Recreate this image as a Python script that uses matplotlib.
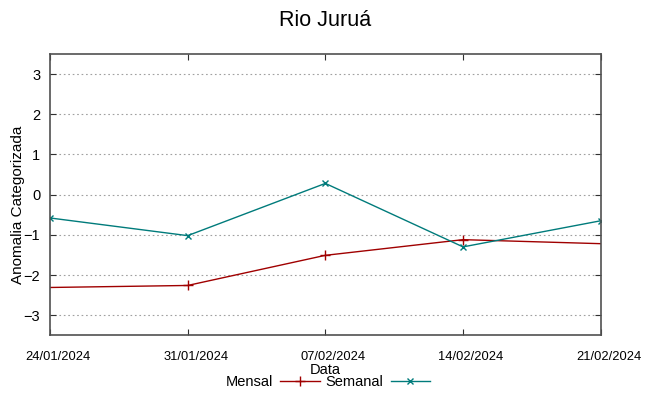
import matplotlib.pyplot as plt
from matplotlib.transforms import ScaledTranslation
from datetime import datetime

datas = ["24/01/2024", "31/01/2024", "07/02/2024", "14/02/2024", "21/02/2024"]
mensal = [-2.31, -2.26, -1.51, -1.12, -1.22]
semanal = [-0.58, -1.02, 0.28, -1.30, -0.65]
yticks = [-3, -2, -1, 0, 1, 2, 3]

x = [datetime.strptime(d, "%d/%m/%Y") for d in datas]

plt.rcParams['font.family'] = ['Liberation Sans', 'DejaVu Sans']
narrow = ['Liberation Sans Narrow', 'Liberation Sans', 'DejaVu Sans']

fig = plt.figure(figsize=(6.49, 3.96), dpi=100)
ax = fig.add_axes([0.077, 0.1533, 0.8486, 0.7103])

ax.plot(x, mensal, color='#a00000', linewidth=1, marker='+', markersize=7,
        markevery=[1, 2, 3], label='Mensal')
ax.plot(x, semanal, color='#007b7b', linewidth=1, marker='x', markersize=5,
        label='Semanal')

ax.set_xlim(x[0], x[-1])
ax.set_ylim(-3.5, 3.5)
ax.set_yticks(yticks)
ax.set_xticks(x)
ax.set_xticklabels(datas, family=narrow, fontsize=9.3)
ax.tick_params(axis='y', direction='in', length=4, right=True, labelsize=10.5, pad=7,
               color='#303030')
ax.tick_params(axis='x', direction='in', length=4, top=True, pad=11, color='#303030')
ax.grid(True, axis='y', linestyle=(0, (1.5, 2.5)), color='#a0a0a0', linewidth=0.8)
for s in ax.spines.values():
    s.set_color('#505050')
    s.set_linewidth(1.2)

ax.set_title("Rio Juruá", fontsize=15.5, pad=20)
ax.set_ylabel("Anomalia Categorizada", fontsize=11)
ax.yaxis.set_label_coords(-0.045, 0.463)
ax.set_xlabel("Data", family=narrow, fontsize=10.5, labelpad=0)

fig.legend(loc='center', bbox_to_anchor=(0.505, 0.035), ncol=2, frameon=False,
           markerfirst=False, prop={'family': narrow, 'size': 10.5},
           handlelength=2.7, columnspacing=0.4, handletextpad=0.5, borderaxespad=0)

# gnuplot puts the date labels a bit right of their ticks
fig.canvas.draw()
for lbl in ax.get_xticklabels():
    lbl.set_transform(lbl.get_transform() + ScaledTranslation(8 / 100, 0, fig.dpi_scale_trans))

fig.savefig("out.png", dpi=100)
